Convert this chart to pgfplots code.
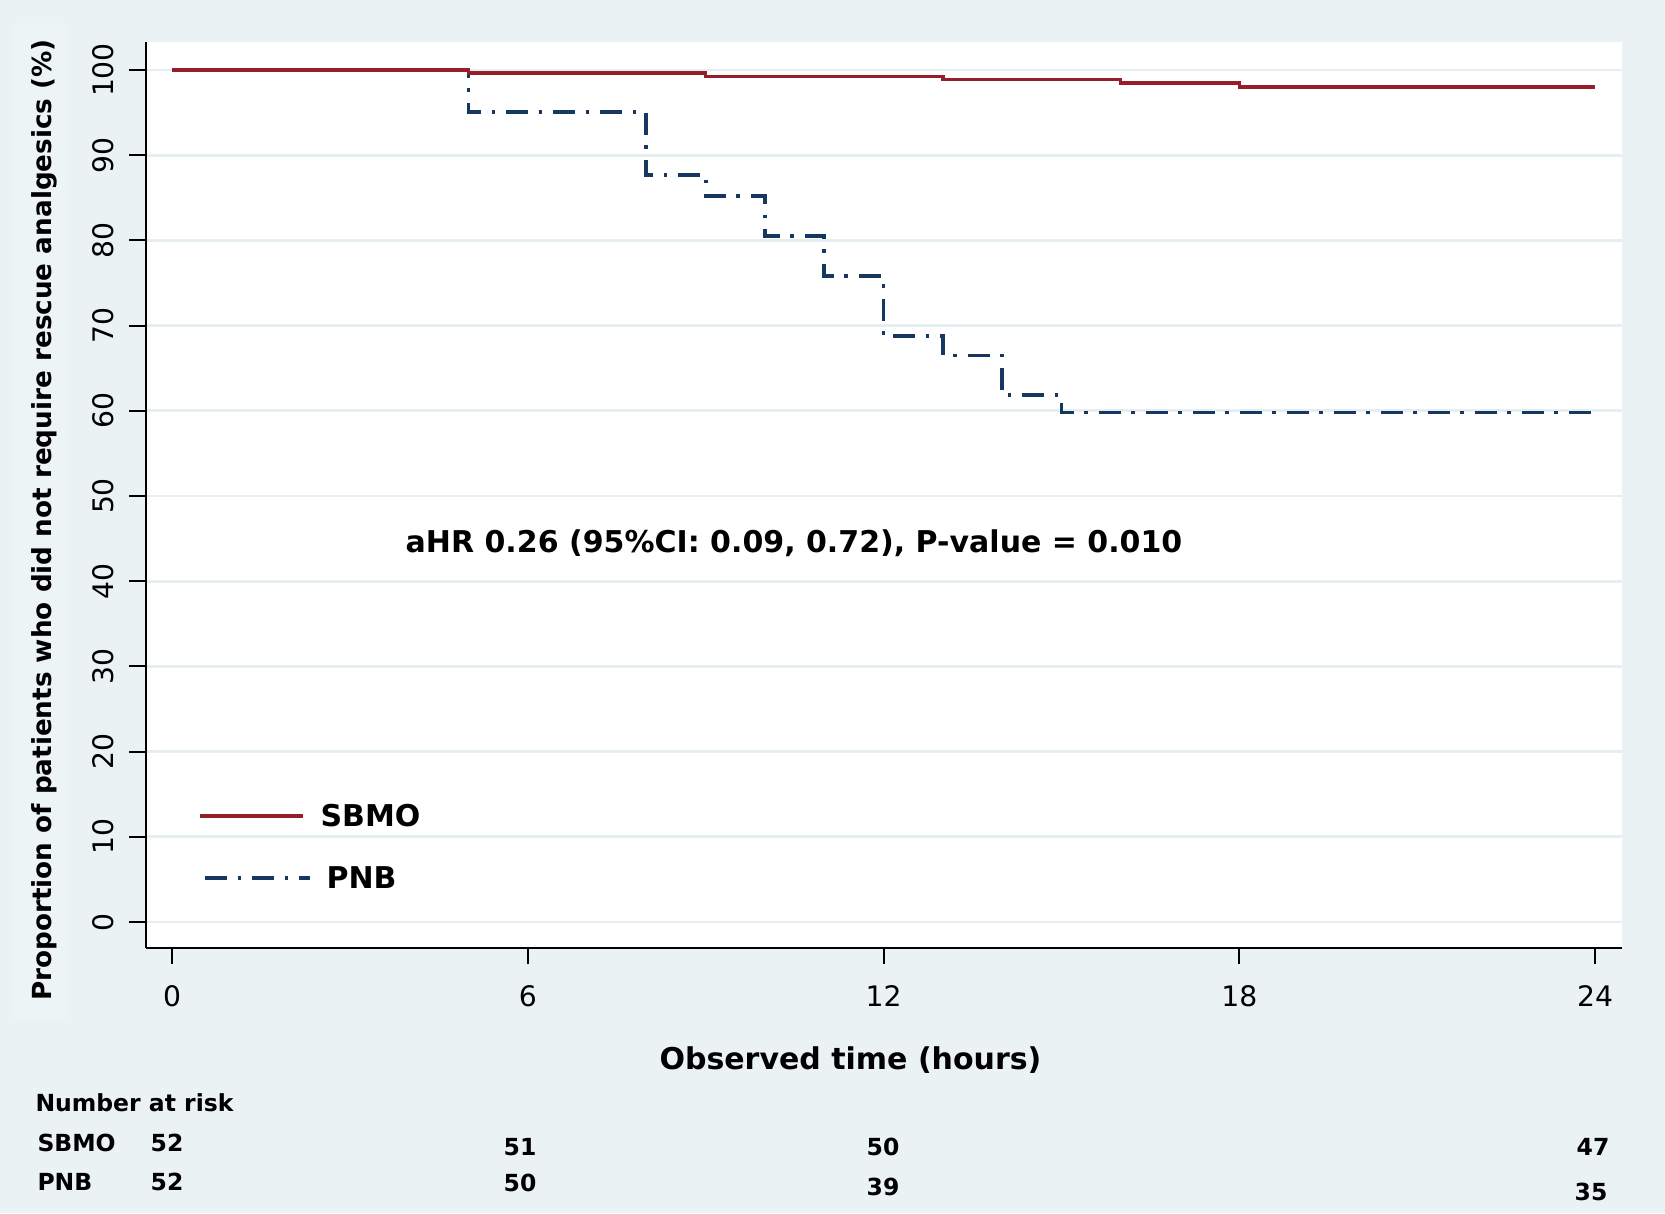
\documentclass[border=0pt]{standalone}
\usepackage{pgfplots}
\pgfplotsset{compat=1.18}
\usepackage{fontspec}
\setmainfont{DejaVu Sans}
\definecolor{bg}{RGB}{234,242,243}
\definecolor{bgl}{RGB}{237,244,245}
\definecolor{gridc}{RGB}{229,238,240}
\definecolor{sbmo}{RGB}{150,30,42}
\definecolor{pnb}{RGB}{22,55,95}
\tikzset{pnbdash/.style={dash pattern=on 8.8pt off 4.2pt on 1.4pt off 4.4pt}}
\begin{document}
\begin{tikzpicture}
\fill[bg] (0,0) rectangle (666pt,485.2pt);
\fill[bgl] (4.4pt,78pt) rectangle (27.6pt,476pt);
\begin{axis}[
  at={(58.2pt,106pt)}, anchor=south west,
  scale only axis, width=590.4pt, height=362.2pt,
  xmin=-0.447, xmax=24.447, ymin=-3.05, ymax=103.23,
  axis lines=left, axis line style={-, black, line width=0.8pt},
  axis background/.style={fill=white},
  xtick={0,6,12,18,24}, ytick={0,10,...,100},
  tick align=outside, major tick length=6.4pt,
  tick style={black, line width=0.8pt},
  minor tick num=0,
  ymajorgrids, grid style={gridc, line width=1.1pt},
  /pgf/number format/assume math mode=true,
  ticklabel style={font=\fontsize{11.3}{13}\selectfont},
  xticklabel style={anchor=north, inner sep=0pt, yshift=-8.4pt},
  yticklabel style={xshift=-6pt, rotate=90, anchor=south, inner sep=0pt},
  clip=false,
]
\addplot[pnb, line width=1.5pt, const plot, pnbdash] coordinates {
  (0,100) (5,95.1) (8,87.7) (9,85.2) (10,80.5) (11,75.8) (12,68.8)
  (13,66.5) (14,61.9) (15,59.8) (24,59.8)};
\addplot[sbmo, line width=1.4pt, const plot] coordinates {
  (0,100) (5,99.65) (9,99.25) (13,98.9) (16,98.5) (18,98.0) (24,98.0)};
% legend samples
\addplot[sbmo, line width=1.4pt, forget plot] coordinates {(0.464,12.44) (2.215,12.44)};
\addplot[pnb, line width=1.5pt, pnbdash, forget plot] coordinates {(0.557,5.16) (2.328,5.16)};
\node[anchor=west, inner sep=0pt, font=\bfseries\fontsize{12}{14}\selectfont] at (axis cs:2.497,12.44) {SBMO};
\node[anchor=west, inner sep=0pt, font=\bfseries\fontsize{12}{14}\selectfont] at (axis cs:2.598,5.16) {PNB};
\node[inner sep=0pt, font=\bfseries\fontsize{12}{14}\selectfont] at (axis cs:10.49,44.4) {aHR 0.26 (95\%CI: 0.09, 0.72), P-value = 0.010};
\end{axis}
% axis titles
\node[inner sep=0pt, font=\bfseries\fontsize{12}{14}\selectfont] at (340.2pt,61.2pt) {Observed time (hours)};
\node[rotate=90, anchor=base, inner sep=0pt, font=\bfseries\fontsize{10.5}{12}\selectfont] at (20.4pt,277.2pt) {Proportion of patients who did not require rescue analgesics (\%)};
% number at risk
\begin{scope}[every node/.style={inner sep=0pt, font=\bfseries\fontsize{9.4}{11}\selectfont}]
\node[anchor=west] at (14pt,44pt) {Number at risk};
\node[anchor=west] at (14.8pt,28pt) {SBMO};
\node[anchor=west] at (14.8pt,12.4pt) {PNB};
\node at (66.8pt,28pt) {52};
\node at (208pt,26.4pt) {51};
\node at (353.2pt,26.4pt) {50};
\node at (637.2pt,26.4pt) {47};
\node at (66.8pt,12.4pt) {52};
\node at (208pt,12pt) {50};
\node at (353.2pt,10.4pt) {39};
\node at (636.4pt,8.4pt) {35};
\end{scope}
\pgfresetboundingbox
\path[use as bounding box] (0,0) rectangle (666pt,485.2pt);
\end{tikzpicture}
\end{document}
